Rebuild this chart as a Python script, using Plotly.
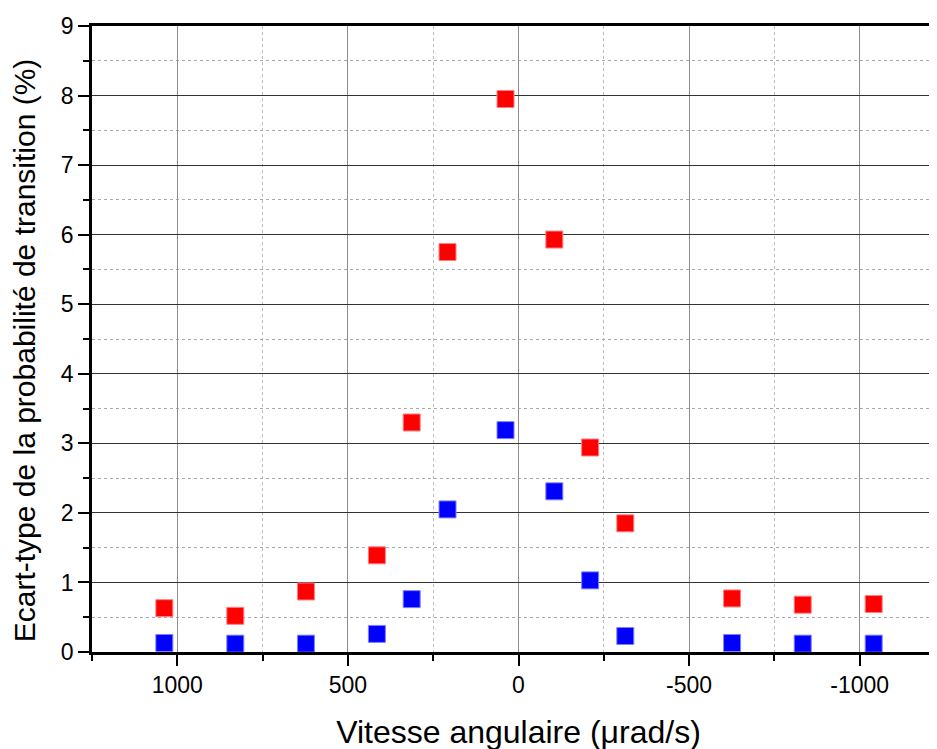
import plotly.graph_objects as go

x_vals = [1038, 830, 623, 415, 313, 208, 38, -105, -210, -313, -626, -833, -1041]
red_vals = [0.63, 0.52, 0.87, 1.39, 3.30, 5.75, 7.95, 5.93, 2.94, 1.85, 0.77, 0.68, 0.69]
blue_vals = [0.13, 0.12, 0.12, 0.26, 0.76, 2.05, 3.19, 2.31, 1.03, 0.23, 0.13, 0.12, 0.12]

x_tickvals = [1000, 500, 0, -500, -1000]
x_ticktext = ["1000", "500", "0", "-500", "-1000"]
y_tickvals = list(range(0, 10))

x_title = "Vitesse angulaire (μrad/s)"
y_title = "Ecart-type de la probabilité de transition (%)"

font_family = "Liberation Sans, Arial, sans-serif"

fig = go.Figure()
fig.add_trace(go.Scatter(
    x=x_vals, y=red_vals, mode="markers",
    marker=dict(symbol="square", size=17, color="#ff0000",
                line=dict(color="#ff8080", width=1)),
    showlegend=False))
fig.add_trace(go.Scatter(
    x=x_vals, y=blue_vals, mode="markers",
    marker=dict(symbol="square", size=17, color="#0000ff",
                line=dict(color="#8080ff", width=1)),
    showlegend=False))

fig.update_layout(
    width=937, height=749,
    margin=dict(l=84, r=0, t=18, b=105, autoexpand=False),
    paper_bgcolor="white", plot_bgcolor="white",
    font=dict(family=font_family, color="black"),
    xaxis=dict(
        range=[1250, -1250],
        tickvals=x_tickvals, ticktext=x_ticktext,
        ticks="outside", ticklen=11, tickwidth=2, tickcolor="black",
        showline=True, linewidth=2.5, linecolor="black", mirror=True,
        showgrid=True, gridcolor="#8c8c8c", gridwidth=1.2,
        zeroline=False, automargin=False,
        tickfont=dict(size=23, family=font_family),
        title=dict(text=x_title, font=dict(size=32, family=font_family), standoff=24),
        minor=dict(dtick=250, tick0=0, ticks="outside", ticklen=6, tickwidth=2, tickcolor="black",
                   showgrid=True, gridcolor="#bbbbbb", griddash="dot", gridwidth=1),
    ),
    yaxis=dict(
        range=[0, 9],
        tickvals=y_tickvals,
        ticks="outside", ticklen=11, tickwidth=2, tickcolor="black",
        showline=True, linewidth=2.5, linecolor="black",
        showgrid=True, gridcolor="#333333", gridwidth=1.2,
        zeroline=False, automargin=False,
        tickfont=dict(size=23, family=font_family),
        minor=dict(dtick=0.5, tick0=0, ticks="outside", ticklen=6, tickwidth=2, tickcolor="black",
                   showgrid=True, gridcolor="#aaaaaa", griddash="dot", gridwidth=1),
    ),
    annotations=[dict(
        text=y_title, textangle=-90, showarrow=False,
        xref="paper", yref="paper", x=0, y=0.482,
        xanchor="center", yanchor="middle", xshift=-68,
        font=dict(size=30, family=font_family, color="black"),
    )],
)

fig.write_html("out.html")
